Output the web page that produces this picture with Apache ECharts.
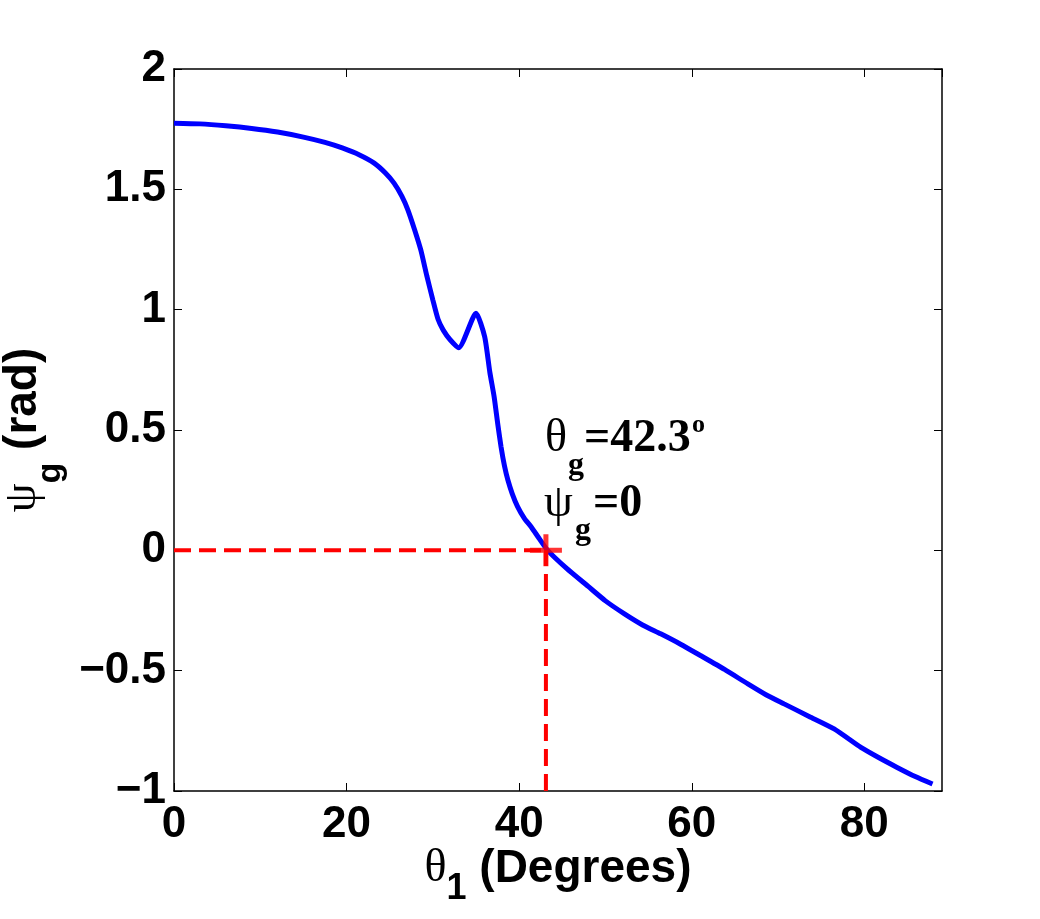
<!DOCTYPE html>
<html>
<head>
<meta charset="utf-8">
<script src="https://cdn.jsdelivr.net/npm/echarts@6/dist/echarts.min.js"></script>
<style>
  html, body { margin: 0; padding: 0; background: #fff; }
  #chart { width: 1040px; height: 919px; }
</style>
</head>
<body>
<div id="chart"></div>
<script>
// theta_1 (degrees) and psi_g (rad)
const theta1 = [0, 3, 6, 9, 12, 15, 17.5, 19.5, 21.5, 23.2, 24.5, 25.5, 26.4, 27.1, 27.9, 28.6, 29.3, 30.0, 30.6, 31.2, 32.0, 33.0,
  35.0, 36.0, 36.6, 37.1, 37.5, 37.9, 38.3, 38.7, 39.2, 39.8, 40.6, 41.4, 42.3, 43.3, 45.5, 48, 50, 52.2, 54.3, 56.4,
  58.7, 61.0, 63.8, 66.5, 68.6, 70.7, 73.6, 76.5, 79.6, 81.7, 83.8, 85.9, 87.9];
const psiG = [1.775, 1.772, 1.764, 1.753, 1.738, 1.717, 1.695, 1.672, 1.643, 1.609, 1.568, 1.526, 1.472, 1.415, 1.33, 1.248, 1.14, 1.04, 0.96, 0.915, 0.875, 0.842,
  0.985, 0.888, 0.74, 0.638, 0.53, 0.43, 0.35, 0.291, 0.235, 0.183, 0.133, 0.097, 0.05, 0.0, -0.075, -0.15, -0.21, -0.264, -0.31, -0.347,
  -0.39, -0.437, -0.495, -0.555, -0.6, -0.638, -0.69, -0.742, -0.819, -0.862, -0.902, -0.94, -0.971];

// zero crossing marker and its guide lines
const crossTheta = 43.1;
const crossPsi = 0;
const guideH = [[0, crossPsi], [crossTheta, crossPsi]];
const guideV = [[crossTheta, -1], [crossTheta, crossPsi]];

const xRange = [0, 89];
const yRange = [-1, 2];
const xStep = 20;
const yStep = 0.5;

const sans = 'Liberation Sans, Arial, Helvetica, sans-serif';
const serif = 'Liberation Serif, Times New Roman, serif';

let chartDom = document.getElementById('chart');
let myChart = echarts.init(chartDom);
let option;

const tickStyle = { inside: true, length: 8, lineStyle: { color: '#000', width: 1 } };
const lineStyle = { onZero: false, lineStyle: { color: '#000', width: 1.5 } };

option = {
  animation: false,
  backgroundColor: '#fff',
  grid: { left: 174, right: 98, top: 69, bottom: 128, outerBoundsMode: 'none' },
  xAxis: [
    {
      type: 'value',
      min: xRange[0],
      max: xRange[1],
      interval: xStep,
      position: 'bottom',
      axisLine: lineStyle,
      axisTick: tickStyle,
      splitLine: { show: false },
      axisLabel: {
        showMaxLabel: false,
        margin: 12,
        fontSize: 44,
        fontWeight: 'bold',
        fontFamily: sans,
        color: '#000',
      },
      name: '{g|θ}{s|1}{t| (Degrees)}',
      nameLocation: 'middle',
      nameGap: 55,
      nameMoveOverlap: false,
      nameTextStyle: {
        rich: {
          g: { fontFamily: serif, fontSize: 46, lineHeight: 46, verticalAlign: 'top', color: '#000' },
          s: { fontFamily: sans, fontWeight: 'bold', fontSize: 36, lineHeight: 86, color: '#000' },
          t: { fontFamily: sans, fontWeight: 'bold', fontSize: 46, lineHeight: 46, verticalAlign: 'top', color: '#000' },
        },
      },
    },
    {
      type: 'value',
      min: xRange[0],
      max: xRange[1],
      interval: xStep,
      position: 'top',
      axisLine: lineStyle,
      axisTick: tickStyle,
      axisLabel: { show: false },
      splitLine: { show: false },
    },
  ],
  yAxis: [
    {
      type: 'value',
      min: yRange[0],
      max: yRange[1],
      interval: yStep,
      position: 'left',
      axisLine: lineStyle,
      axisTick: tickStyle,
      splitLine: { show: false },
      axisLabel: {
        margin: 8,
        fontSize: 44,
        fontWeight: 'bold',
        fontFamily: sans,
        color: '#000',
        formatter: (v) => (v < 0 ? '\u2212' + Math.abs(v) : String(v)),
      },
      name: '{p|ψ}{s|g}{t| (rad)}',
      nameLocation: 'middle',
      nameGap: 72,
      nameMoveOverlap: false,
      nameTextStyle: {
        rich: {
          p: { fontFamily: serif, fontSize: 46, lineHeight: 46, verticalAlign: 'top', color: '#000' },
          s: { fontFamily: sans, fontWeight: 'bold', fontSize: 34, lineHeight: 102, color: '#000' },
          t: { fontFamily: sans, fontWeight: 'bold', fontSize: 46, lineHeight: 46, verticalAlign: 'top', color: '#000' },
        },
      },
    },
    {
      type: 'value',
      min: yRange[0],
      max: yRange[1],
      interval: yStep,
      position: 'right',
      axisLine: lineStyle,
      axisTick: tickStyle,
      axisLabel: { show: false },
      splitLine: { show: false },
    },
  ],
  series: [
    {
      name: 'psi_g',
      type: 'line',
      data: theta1.map((t, i) => [t, psiG[i]]),
      showSymbol: false,
      smooth: 0.2,
      lineStyle: { color: '#0000ff', width: 5 },
      z: 2,
    },
    {
      name: 'guideH',
      type: 'line',
      data: guideH,
      showSymbol: false,
      lineStyle: { color: '#ff0000', width: 4, type: [17, 8] },
      z: 3,
    },
    {
      name: 'guideV',
      type: 'line',
      data: guideV,
      showSymbol: false,
      lineStyle: { color: '#ff0000', width: 4, type: [17, 8] },
      z: 3,
    },
    {
      name: 'cross',
      type: 'scatter',
      data: [[crossTheta, crossPsi]],
      symbol: 'path://M-1.1,-7H1.1V-1.1H7V1.1H1.1V7H-1.1V1.1H-7V-1.1H-1.1Z',
      symbolSize: 32,
      itemStyle: { color: '#ff0000' },
      z: 4,
    },
  ],
  graphic: [
    { type: 'text', x: 545, y: 439, style: { text: 'θ', font: '46px ' + serif, fill: '#000', verticalAlign: 'middle' } },
    { type: 'text', x: 568, y: 466, style: { text: 'g', font: 'bold 32px ' + serif, fill: '#000', verticalAlign: 'middle' } },
    { type: 'text', x: 584, y: 439, style: { text: '=42.3', font: 'bold 46px ' + serif, fill: '#000', verticalAlign: 'middle' } },
    { type: 'text', x: 692, y: 425, style: { text: 'o', font: 'bold 26px ' + serif, fill: '#000', verticalAlign: 'middle' } },
    { type: 'text', x: 544, y: 504, style: { text: 'ψ', font: '46px ' + serif, fill: '#000', verticalAlign: 'middle' } },
    { type: 'text', x: 575, y: 531, style: { text: 'g', font: 'bold 32px ' + serif, fill: '#000', verticalAlign: 'middle' } },
    { type: 'text', x: 593, y: 504, style: { text: '=0', font: 'bold 46px ' + serif, fill: '#000', verticalAlign: 'middle' } },
  ],
};

option && myChart.setOption(option);
</script>
</body>
</html>
